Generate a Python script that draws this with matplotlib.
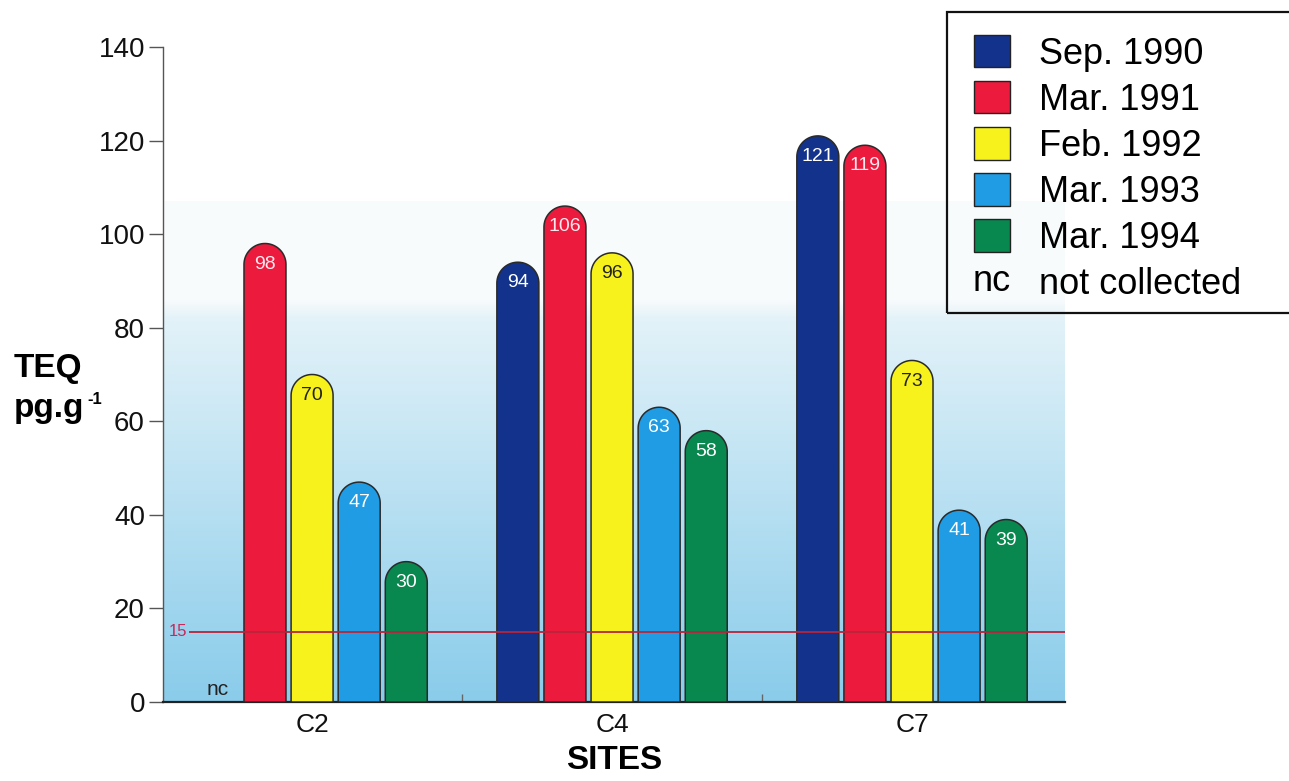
import numpy as np
import matplotlib
matplotlib.use("Agg")
import matplotlib.pyplot as plt
from matplotlib.patches import Patch, Rectangle, PathPatch
from matplotlib.path import Path
from matplotlib.legend_handler import HandlerBase
from matplotlib.text import Text

plt.rcParams['font.family'] = ['Liberation Sans', 'DejaVu Sans']

# --- data -------------------------------------------------------------
sites = ["C2", "C4", "C7"]
campaigns = ["Sep. 1990", "Mar. 1991", "Feb. 1992", "Mar. 1993", "Mar. 1994"]
sep_1990 = [None, 94, 121]          # None = not collected
mar_1991 = [98, 106, 119]
feb_1992 = [70, 96, 73]
mar_1993 = [47, 63, 41]
mar_1994 = [30, 58, 39]
series = [sep_1990, mar_1991, feb_1992, mar_1993, mar_1994]
threshold = 15
y_ticks = [0, 20, 40, 60, 80, 100, 120, 140]

colors = ["#12328c", "#ec1a3c", "#f7f21c", "#1f9ce3", "#08874f"]
text_colors = ["white", "#ffe8ee", "#222222", "white", "white"]

# --- figure -----------------------------------------------------------
W, H = 1289, 781
fig = plt.figure(figsize=(W / 100, H / 100), dpi=100)
ax = fig.add_axes([163 / W, 1 - 702 / H, (1065 - 163) / W, (702 - 47) / H])
x0, x1 = -0.497, 2.51
ax.set_xlim(x0, x1)
ax.set_ylim(0, 140)

# soft blue wash behind the bars, fading out towards the top
top = 107
vals = np.linspace(0, top, 400)
bottom_c = np.array([0.54, 0.80, 0.92])
mid_c = np.array([0.89, 0.95, 0.975])
pale_c = np.array([0.975, 0.985, 0.99])
rows = []
for v in vals:
    if v <= 82:
        t = v / 82
        rows.append(bottom_c * (1 - t) + mid_c * t)
    else:
        t = min((v - 82) / 4.0, 1.0)
        rows.append(mid_c * (1 - t) + pale_c * t)
grad = np.array(rows)[:, None, :]
ax.imshow(grad, extent=(x0, x1, 0, top), origin="lower", aspect="auto",
          zorder=0, interpolation="bilinear")

# --- rounded-top bars -------------------------------------------------
bar_w = 0.14
step = 0.157
ax_px_w = (1065 - 163)
ax_px_h = (702 - 47)
px_per_x = ax_px_w / (x1 - x0)
px_per_y = ax_px_h / 140.0


def rounded_bar(xc, h, w):
    rx = w / 2
    ry = rx * px_per_x / px_per_y
    base = max(h - ry, 0)
    theta = np.linspace(np.pi, 0, 40)
    arc = np.column_stack([xc + rx * np.cos(theta), base + ry * np.sin(theta)])
    verts = np.vstack([[xc - rx, 0], [xc - rx, base], arc, [xc + rx, 0], [xc - rx, 0]])
    codes = [Path.MOVETO] + [Path.LINETO] * (len(verts) - 2) + [Path.CLOSEPOLY]
    return Path(verts, codes)


centers = np.arange(len(sites))
for k, (vals_k, col, tcol) in enumerate(zip(series, colors, text_colors)):
    offset = (k - 2) * step
    for i, v in enumerate(vals_k):
        xc = centers[i] + offset
        if v is None:
            ax.text(xc, 2.6, "nc", ha="center", va="center", fontsize=15,
                    color="#222222", zorder=5)
            continue
        patch = PathPatch(rounded_bar(xc, v, bar_w), facecolor=col,
                          edgecolor="#2a2a2a", linewidth=1.1, zorder=3)
        ax.add_patch(patch)
        ax.text(xc, v - 4.4, str(v), ha="center", va="center", fontsize=14,
                color=tcol, zorder=6)

# threshold line
ax.plot([-0.41, x1], [threshold, threshold], color="#b8243a", linewidth=1.3,
        zorder=4, solid_capstyle="butt")
ax.text(-0.447, threshold, str(threshold), ha="center", va="center",
        fontsize=12, color="#c8285a", zorder=5)

# --- axes styling -----------------------------------------------------
for s in ("top", "right"):
    ax.spines[s].set_visible(False)
ax.spines["left"].set_color("#555555")
ax.spines["left"].set_linewidth(1.0)
ax.spines["bottom"].set_color("#222222")
ax.spines["bottom"].set_linewidth(1.6)
ax.set_yticks(y_ticks)
ax.set_yticklabels([str(t) for t in y_ticks], fontsize=20, color="#111111")
ax.tick_params(axis="y", length=10, width=1, color="#555555", pad=3)
ax.set_xticks(centers)
ax.set_xticklabels(sites, fontsize=19, color="#111111")
ax.tick_params(axis="x", length=0, pad=8)
ax.set_xticks([0.5, 1.5], minor=True)
ax.tick_params(axis="x", which="minor", direction="in", length=6, width=1,
               color="#666666")
ax.set_xlabel("SITES", fontsize=24, fontweight="bold", labelpad=6)

# y-axis title: TEQ / pg.g^-1
fig.text(14 / W, 1 - 368 / H, "TEQ", fontsize=24, fontweight="bold",
         ha="left", va="center")
fig.text(14 / W, 1 - 408 / H, "pg.g", fontsize=24, fontweight="bold",
         ha="left", va="center")
fig.text(87 / W, 1 - 399 / H, "-1", fontsize=12, fontweight="bold",
         ha="left", va="center")


# --- legend -----------------------------------------------------------
class NotCollected:
    pass


class NotCollectedHandler(HandlerBase):
    def create_artists(self, legend, orig_handle, xdescent, ydescent,
                       width, height, fontsize, trans):
        t = Text(-xdescent + width / 2, -ydescent + height / 2, "nc",
                 ha="center", va="center", fontsize=fontsize, transform=trans)
        return [t]


handles = [Patch(facecolor=c, edgecolor="#222222", linewidth=1.0) for c in colors]
handles.append(NotCollected())
labels = campaigns + ["not collected"]
fig.legend(handles, labels, loc="upper left",
           bbox_to_anchor=(974 / W, 1 - 35 / H), frameon=False, fontsize=26,
           handlelength=1.0, handleheight=1.0, handletextpad=0.8,
           labelspacing=0.265, borderpad=0, borderaxespad=0,
           handler_map={NotCollected: NotCollectedHandler()})
fig.patches.append(Rectangle((947 / W, 1 - 313 / H), 0.4, (313 - 12) / H,
                             transform=fig.transFigure, fill=False,
                             edgecolor="#111111", linewidth=1.6))

fig.savefig("out.png", dpi=100)
